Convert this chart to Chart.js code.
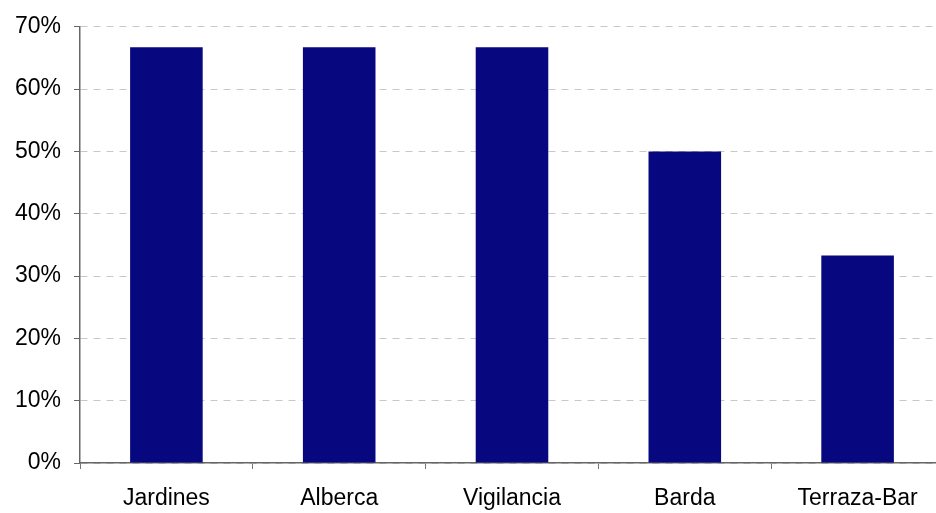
<!DOCTYPE html>
<html lang="es">
  <head>
    <meta charset="UTF-8" />
    <title>Servicios</title>
    <script src="https://cdn.jsdelivr.net/npm/chart.js@4.4.1/dist/chart.umd.min.js"></script>
    <style>
      html, body {
        margin: 0;
        padding: 0;
        background: #fff;
        overflow: hidden;
      }
      #wrap {
        width: 944px;
        height: 513px;
      }
    </style>
  </head>
  <body>
    <div id="wrap"><canvas id="chart"></canvas></div>
    <script>
      // data
      const categories = ['Jardines', 'Alberca', 'Vigilancia', 'Barda', 'Terraza-Bar'];
      const values = [66.7, 66.7, 66.7, 50, 33.3];
      const yMax = 70;
      const yStep = 10;

      const font = { family: 'Arial, "Liberation Sans", sans-serif', size: 23 };

      new Chart(document.getElementById('chart'), {
        type: 'bar',
        data: {
          labels: categories,
          datasets: [
            {
              data: values,
              backgroundColor: '#07077f',
              barPercentage: 0.42,
              categoryPercentage: 1,
            },
          ],
        },
        options: {
          responsive: true,
          maintainAspectRatio: false,
          animation: false,
          layout: { padding: { top: 25, right: 0, left: 0, bottom: 0 } },
          plugins: { legend: { display: false }, tooltip: { enabled: false } },
          scales: {
            x: {
              grid: {
                offset: true,
                drawOnChartArea: false,
                tickLength: 6,
                color: '#777',
              },
              border: { color: '#666', width: 1.5 },
              ticks: { color: '#000', font: font, padding: 16 },
              afterFit: (s) => { s.height = 513 - 25 - 438; },
            },
            y: {
              min: 0,
              max: yMax,
              grid: {
                color: '#c8c8c8',
                tickColor: '#666',
                tickLength: 6,
              },
              // in v4 border.dash dashes the grid lines, the axis line stays solid
              border: { color: '#666', width: 1.5, dash: [7, 6] },
              ticks: {
                stepSize: yStep,
                color: '#000',
                font: font,
                padding: 13,
                callback: (v) => v + '%',
              },
              afterFit: (s) => { s.width = 80; },
            },
          },
        },
      });
    </script>
  </body>
</html>
